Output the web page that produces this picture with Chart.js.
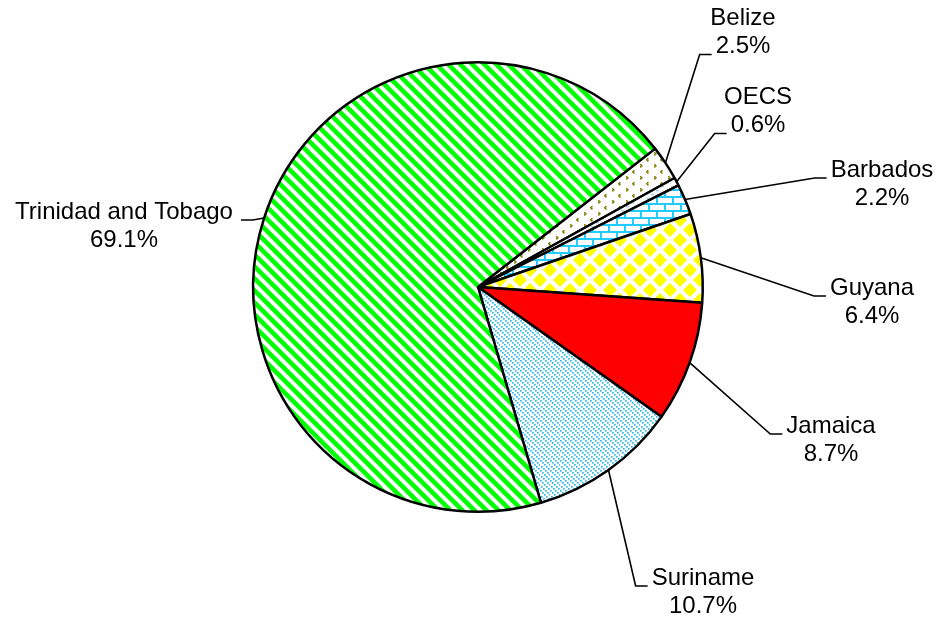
<!DOCTYPE html>
<html><head><meta charset="utf-8">
<script src="https://cdn.jsdelivr.net/npm/chart.js@4/dist/chart.umd.min.js"></script>
<style>html,body{margin:0;padding:0;background:#fff}#wrap{width:941px;height:623px;position:relative}</style>
</head><body><div id="wrap"><canvas id="c" width="941" height="623"></canvas></div>
<script>
// ---- data ----
const categories = ['Belize', 'OECS', 'Barbados', 'Guyana', 'Jamaica', 'Suriname', 'Trinidad and Tobago'];
const shares = [2.5, 0.6, 2.2, 6.4, 8.7, 10.7, 69.1];
const shareLabels = ['2.5%', '0.6%', '2.2%', '6.4%', '8.7%', '10.7%', '69.1%'];

// ---- label placement (offset of first text line from pie centre, leader attach line, side) ----
const labelLayout = [
  {dx: 265, dy: -269, attach: 1, side: 'left'},
  {dx: 280, dy: -190, attach: 1, side: 'left'},
  {dx: 404, dy: -117, attach: 0, side: 'left'},
  {dx: 394, dy: 1, attach: 0, side: 'left'},
  {dx: 353, dy: 139, attach: 0, side: 'left'},
  {dx: 225, dy: 291, attach: 0, side: 'left'},
  {dx: -354, dy: -75, attach: 0, side: 'right'}
];

const canvas = document.getElementById('c');
const ctx = canvas.getContext('2d');

function tile(w, h, draw) {
  const c = document.createElement('canvas');
  c.width = w; c.height = h;
  const g = c.getContext('2d');
  g.fillStyle = '#ffffff';
  g.fillRect(0, 0, w, h);
  draw(g, w, h);
  return ctx.createPattern(c, 'repeat');
}

function diamond(g, x, y, r) {
  g.beginPath();
  g.moveTo(x, y - r); g.lineTo(x + r, y); g.lineTo(x, y + r); g.lineTo(x - r, y); g.closePath();
  g.fill();
}

const patBelize = tile(14, 12, (g) => {
  g.fillStyle = '#808000';
  [[3,2],[2,3],[3,4],[10,8],[11,9],[10,10]].forEach(p => g.fillRect(p[0], p[1], 1.6, 1.6));
});
const patOECS = tile(10, 8, (g) => {
  g.fillStyle = '#a8d4f5';
  g.fillRect(1, 2, 3, 1.5);
  g.fillRect(6, 6, 3, 1.5);
});
const patBarbados = tile(16, 14, (g) => {
  g.strokeStyle = '#22ccff';
  g.lineWidth = 2;
  g.beginPath();
  g.moveTo(0, 1); g.lineTo(16, 1);
  g.moveTo(0, 8); g.lineTo(16, 8);
  g.moveTo(1, 1); g.lineTo(1, 8);
  g.moveTo(9, 8); g.lineTo(9, 14);
  g.stroke();
});
const patGuyana = tile(20, 20, (g) => {
  g.fillStyle = '#ffff00';
  diamond(g, 10, 10, 7);
  [[0,0],[20,0],[0,20],[20,20]].forEach(p => diamond(g, p[0], p[1], 7));
});
const patSuriname = tile(10, 10, (g) => {
  g.fillStyle = '#33bbee';
  [0, 5].forEach(k => {
    for (let t = 0; t < 10; t += 2) g.fillRect((k + t) % 10, t, 1.7, 1.7);
  });
});
const patTrinidad = tile(12, 12, (g, s) => {
  g.strokeStyle = '#00ff00';
  g.lineWidth = 4.6;
  g.beginPath();
  for (let k = -1; k <= 1; k++) { g.moveTo(k * s - 2, -2); g.lineTo(k * s + s + 2, s + 2); }
  g.stroke();
});

const fills = [patBelize, patOECS, patBarbados, patGuyana, '#ff0000', patSuriname, patTrinidad];

const labelPlugin = {
  id: 'pieLabels',
  afterDatasetsDraw(chart) {
    const c = chart.ctx;
    const meta = chart.getDatasetMeta(0);
    const fontSpec = '24px "Liberation Sans", Arial, sans-serif';
    const lineGap = 28.5;
    c.save();
    c.font = fontSpec;
    c.textAlign = 'center';
    c.textBaseline = 'middle';
    c.fillStyle = '#000';
    meta.data.forEach((arc, i) => {
      const p = arc.getProps(['x', 'y', 'startAngle', 'endAngle', 'outerRadius'], true);
      const mid = (p.startAngle + p.endAngle) / 2;
      const ax = p.x + Math.cos(mid) * p.outerRadius;
      const ay = p.y + Math.sin(mid) * p.outerRadius;
      const L = labelLayout[i];
      const tx = p.x + L.dx, ty = p.y + L.dy;
      const lines = [categories[i], shareLabels[i]];
      lines.forEach((t, j) => c.fillText(t, tx, ty + j * lineGap));
      const w = c.measureText(lines[L.attach]).width;
      const ly = ty + L.attach * lineGap + 8;
      let x1, x2;
      if (L.side === 'left') { const e = tx - w / 2; x1 = e - 4; x2 = e - 16; }
      else { const e = tx + w / 2; x1 = e + 8; x2 = e + 20; }
      c.beginPath();
      c.strokeStyle = '#000';
      c.lineWidth = 1.6;
      c.moveTo(x1, ly); c.lineTo(x2, ly); c.lineTo(ax, ay);
      c.stroke();
    });
    c.restore();
  }
};

new Chart(canvas, {
  type: 'pie',
  data: {
    labels: categories,
    datasets: [{
      data: shares,
      backgroundColor: fills,
      borderColor: '#000000',
      borderWidth: 2.5,
      hoverBorderWidth: 2.5,
      borderAlign: 'center'
    }]
  },
  options: {
    responsive: false,
    animation: false,
    rotation: 52,
    layout: {padding: {left: 252, right: 237, top: 61, bottom: 110}},
    plugins: {legend: {display: false}, tooltip: {enabled: false}}
  },
  plugins: [labelPlugin]
});
</script>
</body></html>
